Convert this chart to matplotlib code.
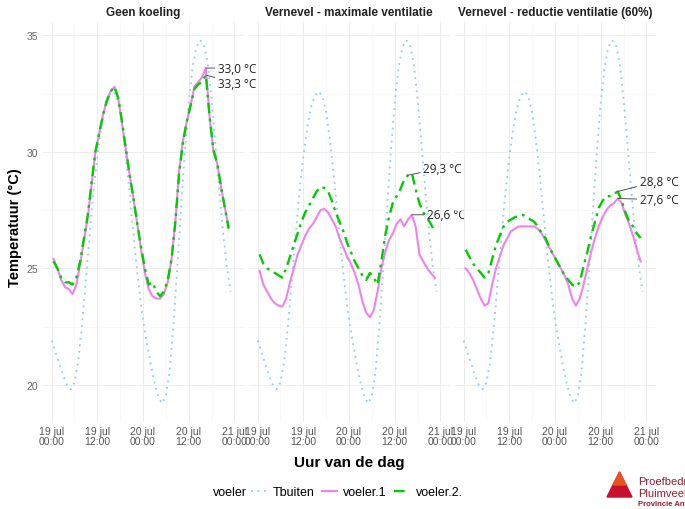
import matplotlib.pyplot as plt
import numpy as np
from matplotlib.patches import Polygon

plt.rcParams['font.family'] = ['Liberation Sans', 'DejaVu Sans']

# uren sinds 19 jul 00:00
t_buiten = np.arange(0, 48)
t_voeler = np.arange(0.5, 47, 1)

tbuiten = [21.9, 21.4, 20.9, 20.4, 20.0, 19.8, 20.1, 21.0, 22.6, 24.5, 26.5, 28.3,
           29.8, 31.0, 31.9, 32.4, 32.6, 32.4, 31.7, 30.5, 29.0, 27.3, 25.6, 24.1,
           22.8, 21.8, 20.9, 20.1, 19.5, 19.2, 19.5, 20.6, 22.6, 25.0, 27.6, 30.0,
           32.1, 33.6, 34.5, 34.8, 34.6, 33.8, 32.3, 30.4, 28.4, 26.6, 25.1, 24.0]

geen_v1 = [25.4, 25.0, 24.5, 24.2, 24.1, 23.9, 24.3, 25.2, 26.2, 27.2, 28.6, 30.0,
           30.8, 31.6, 32.2, 32.6, 32.8, 32.3, 31.2, 30.1, 29.0, 28.0, 26.9, 25.8,
           24.8, 24.1, 23.8, 23.7, 23.7, 23.9, 24.4, 25.4, 27.0, 29.2, 30.5, 31.3,
           32.0, 32.8, 33.0, 33.2, 33.6, 31.5, 30.0, 29.5, 28.5, 27.6, 26.8]
geen_v2 = [25.3, 25.0, 24.6, 24.4, 24.4, 24.3, 24.6, 25.3, 26.3, 27.3, 28.7, 30.0,
           30.8, 31.6, 32.2, 32.6, 32.8, 32.3, 31.3, 30.1, 29.0, 28.0, 26.9, 25.9,
           25.0, 24.3, 24.4, 24.0, 23.8, 24.0, 24.5, 25.4, 27.0, 29.1, 30.4, 31.3,
           32.0, 32.7, 32.9, 33.0, 33.3, 31.5, 30.1, 29.5, 28.5, 27.6, 26.7]

max_v1 = [24.9, 24.3, 24.0, 23.7, 23.5, 23.4, 23.35, 23.7, 24.4, 25.0, 25.6, 26.0,
          26.4, 26.7, 26.9, 27.2, 27.5, 27.55, 27.4, 27.1, 26.8, 26.3, 25.9, 25.5,
          25.2, 24.8, 24.3, 23.6, 23.1, 22.9, 23.2, 24.0, 25.0, 25.7, 26.2, 26.5,
          26.9, 27.1, 26.8, 27.1, 27.3, 26.8, 25.6, 25.3, 25.0, 24.8, 24.6]
max_v2 = [25.6, 25.2, 25.0, 24.9, 24.8, 24.7, 24.6, 25.0, 25.5, 26.0, 26.5, 27.0,
          27.4, 27.7, 28.0, 28.3, 28.5, 28.45, 28.3, 27.9, 27.4, 27.0, 26.6, 26.1,
          25.7, 25.3, 25.0, 24.7, 24.5, 24.8, 24.6, 24.3, 25.3, 26.4, 27.2, 27.8,
          28.1, 28.4, 28.8, 29.0, 29.1, 28.4, 27.8, 27.4, 27.2, 26.9, 26.6]

red_v1 = [25.0, 24.8, 24.5, 24.1, 23.7, 23.4, 23.5, 24.3, 25.0, 25.5, 26.0, 26.3,
          26.6, 26.7, 26.8, 26.8, 26.8, 26.8, 26.8, 26.7, 26.5, 26.2, 25.9, 25.6,
          25.3, 25.0, 24.7, 24.3, 23.7, 23.4, 23.7, 24.3, 25.0, 25.7, 26.3, 26.8,
          27.2, 27.5, 27.7, 27.8, 28.0, 27.8, 27.3, 26.9, 26.4, 25.8, 25.3]
red_v2 = [25.8, 25.5, 25.2, 25.0, 24.8, 24.6, 24.8, 25.4, 26.0, 26.4, 26.8, 27.0,
          27.1, 27.2, 27.25, 27.3, 27.2, 27.1, 27.0, 26.8, 26.5, 26.3, 25.9, 25.6,
          25.3, 25.0, 24.7, 24.5, 24.3, 24.2, 24.4, 25.1, 25.7, 26.4, 27.0, 27.6,
          27.9, 28.1, 28.1, 28.2, 28.3, 27.9, 27.4, 27.0, 26.8, 26.5, 26.3]

panels = ['Geen koeling', 'Vernevel - maximale ventilatie', 'Vernevel - reductie ventilatie (60%)']
voeler1 = [geen_v1, max_v1, red_v1]
voeler2 = [geen_v2, max_v2, red_v2]

# labels: (tekst, punt, tekstpositie)
labels = [
    [('33,0 °C', (40.5, 33.6), (43.6, 33.6)), ('33,3 °C', (40.5, 33.3), (43.6, 32.95))],
    [('29,3 °C', (39.5, 29.0), (43.4, 29.3)), ('26,6 °C', (40.5, 27.3), (44.5, 27.3))],
    [('28,8 °C', (40.5, 28.3), (46.2, 28.75)), ('27,6 °C', (40.5, 28.0), (46.2, 27.95))],
]

x_ticks = [0, 12, 24, 36, 48]
x_ticklabels = ['19 jul\n00:00', '19 jul\n12:00', '20 jul\n00:00', '20 jul\n12:00', '21 jul\n00:00']

c_buiten = '#8FCFE6'
c_v1 = '#EE82EE'
c_v2 = '#00CD00'

W, H = 685, 510
fig = plt.figure(figsize=(6.85, 5.1), dpi=100)

lefts = [42.5, 248.5, 454.5]
top_px, bot_px = 22.5, 423
axes = []
for i, name in enumerate(panels):
    ax = fig.add_axes([lefts[i] / W, 1 - bot_px / H, 201 / W, (bot_px - top_px) / H])
    axes.append(ax)
    ax.patch.set_visible(False)
    ax.set_xlim(-2.4, 50.4)
    ax.set_ylim(18.4, 35.6)
    for s in ax.spines.values():
        s.set_visible(False)
    ax.set_xticks(x_ticks)
    ax.set_xticks([6, 18, 30, 42], minor=True)
    ax.set_xticklabels(x_ticklabels, fontsize=7.5, color='#555555', linespacing=1.0,
                       family=['Liberation Sans Narrow', 'Liberation Sans'])
    ax.set_yticks([20, 25, 30, 35])
    ax.set_yticks([22.5, 27.5, 32.5], minor=True)
    if i == 0:
        ax.set_yticklabels(['20', '25', '30', '35'], fontsize=7.5, color='#666666')
    else:
        ax.set_yticklabels([])
    ax.tick_params(which='both', length=0, pad=3)
    ax.grid(which='major', color='#EDEDED', lw=0.7)
    ax.grid(which='minor', color='#F5F5F5', lw=0.5)
    ax.set_axisbelow(True)
    ax.set_title(name, fontsize=8.5, fontweight='bold', pad=5, color='#222222')

    ax.plot(t_buiten, tbuiten, color=c_buiten, lw=1.3, linestyle=(0, (1, 2.6)),
            label='Tbuiten')
    ax.plot(t_voeler, voeler1[i], color=c_v1, lw=1.5, label='voeler.1')
    ax.plot(t_voeler, voeler2[i], color=c_v2, lw=1.7, dashes=(4.5, 2.2, 1.2, 2.2),
            label='voeler.2.')

    for txt, xy, xyt in labels[i]:
        ax.annotate(txt, xy=xy, xytext=xyt, fontsize=8.5, color='#222222',
                    family=['Open Sans', 'DejaVu Sans'], va='center', ha='left',
                    arrowprops=dict(arrowstyle='-', color='#555555', lw=0.7,
                                    shrinkA=0, shrinkB=0),
                    annotation_clip=False, zorder=10)

fig.text(15 / W, 1 - 228 / H, 'Temperatuur (°C)', rotation=90, fontsize=10.5,
         fontweight='bold', ha='center', va='center')
fig.text(349 / W, 1 - 463 / H, 'Uur van de dag', fontsize=11, fontweight='bold',
         ha='center', va='center')

handles, lbls = axes[0].get_legend_handles_labels()
fig.text(213 / W, 1 - 493 / H, 'voeler', fontsize=9, ha='left', va='center')
fig.legend(handles, lbls, loc='center left', bbox_to_anchor=(240 / W, 1 - 493 / H),
           ncol=3, frameon=False, fontsize=9, handlelength=1.2, handletextpad=0.5,
           columnspacing=0.6)

# logo
fig.patches.append(Polygon([[607 / W, 1 - 498 / H], [632 / W, 1 - 498 / H], [619.5 / W, 1 - 473 / H]],
                           closed=True, transform=fig.transFigure, color='#C8102E'))
fig.patches.append(Polygon([[613 / W, 1 - 486 / H], [626 / W, 1 - 486 / H], [619.5 / W, 1 - 473 / H]],
                           closed=True, transform=fig.transFigure, color='#E8541E'))
fig.text(638 / W, 1 - 482 / H, 'Proefbedrijf', fontsize=8, color='#9B1B30', va='center')
fig.text(638 / W, 1 - 494 / H, 'Pluimveehouderij', fontsize=8, color='#9B1B30', va='center')
fig.text(638 / W, 1 - 505 / H, 'Provincie Antwerpen', fontsize=5.5, fontweight='bold',
         color='#9B1B30', va='center')

fig.savefig('out.png', dpi=100)
